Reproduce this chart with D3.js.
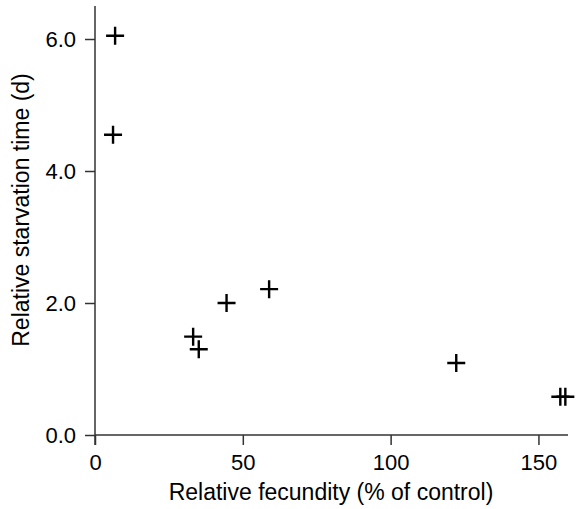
<!DOCTYPE html>
<html>
<head>
<meta charset="utf-8">
<script src="https://cdn.jsdelivr.net/npm/d3@7"></script>
<style>
  html, body { margin: 0; padding: 0; background: #fff; }
  svg { display: block; font-family: "Liberation Sans", Arial, Helvetica, sans-serif; }
</style>
</head>
<body>
<svg id="chart" width="580" height="509"></svg>
<script>
// Relative fecundity (% of control) vs. relative starvation time (d)
const fecundity = [6.8, 6.1, 33.2, 35.1, 44.5, 58.9, 122.2, 157.4, 159.1];
const starvation = [6.05, 4.55, 1.49, 1.30, 2.00, 2.21, 1.09, 0.58, 0.58];
const xTicks = [0, 50, 100, 150];
const yTicks = [0, 2, 4, 6];

const svg = d3.select("#chart");
const x = d3.scaleLinear().domain([0, 160]).range([95, 568]);
const y = d3.scaleLinear().domain([0, 6.5]).range([435, 6]);

const axisColor = "#333";
const tickFont = "22px";
const titleFont = "23px";

// x axis
const gx = svg.append("g").attr("transform", `translate(0,${y(0)})`)
  .call(d3.axisBottom(x).tickValues(xTicks).tickFormat(d3.format("d"))
    .tickSize(10).tickSizeOuter(0).tickPadding(9));
// y axis
const gy = svg.append("g").attr("transform", `translate(${x(0)},0)`)
  .call(d3.axisLeft(y).tickValues(yTicks).tickFormat(d3.format(".1f"))
    .tickSize(10).tickSizeOuter(0).tickPadding(9));

[gx, gy].forEach(g => {
  g.attr("font-size", null).attr("font-family", null);
  g.select(".domain").attr("stroke", axisColor).attr("stroke-width", 1.5);
  g.selectAll(".tick line").attr("stroke", axisColor).attr("stroke-width", 1.5);
  g.selectAll(".tick text").attr("fill", "#000").style("font-size", tickFont);
});
// the y axis line runs down to the bottom of the x tick marks
gy.select(".domain").attr("d", `M0,${y(6.5)}V${y(0) + 10}`);
gx.select(".domain").attr("d", `M${x(0)},0H${x(160)}`);

// axis titles
svg.append("text")
  .attr("x", 331).attr("y", 500)
  .attr("text-anchor", "middle")
  .style("font-size", titleFont)
  .text("Relative fecundity (% of control)");
svg.append("text")
  .attr("transform", `translate(29,210) rotate(-90)`)
  .attr("text-anchor", "middle")
  .style("font-size", titleFont)
  .text("Relative starvation time (d)");

// plus markers
const h = 9;
const pts = svg.append("g").attr("stroke", "#000").attr("stroke-width", 2.4);
fecundity.forEach((f, i) => {
  const cx = x(f), cy = y(starvation[i]);
  pts.append("path").attr("d", `M${cx - h},${cy}H${cx + h}M${cx},${cy - h}V${cy + h}`);
});
</script>
</body>
</html>
